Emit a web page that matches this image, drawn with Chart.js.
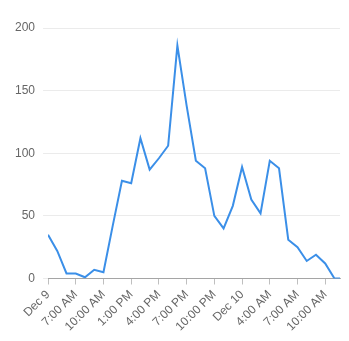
<!DOCTYPE html>
<html>
<head>
<meta charset="utf-8">
<script src="https://cdn.jsdelivr.net/npm/chart.js@4/dist/chart.umd.min.js"></script>
<style>
  html, body { margin: 0; padding: 0; background: #fff; }
  #wrap { width: 349px; height: 341px; }
</style>
</head>
<body>
<div id="wrap"><canvas id="lineChart"></canvas></div>
<script>
// hours since the first sample
const hours = [0, 1, 2, 3, 4, 5, 6, 7, 8, 9, 10, 11, 12, 13, 14, 15,
  16, 17, 18, 19, 20, 21, 22, 23, 24, 25, 26, 27, 28, 29, 30, 31, 31.6];
const counts = [35, 22, 4, 4, 1, 7, 5, 42, 78, 76, 112, 87, 96, 106, 186, 138,
  94, 88, 50, 40, 58, 89, 63, 52, 94, 88, 31, 25, 14, 19, 12, 0, 0];

// tick every 3 hours
const tickHours = [0, 3, 6, 9, 12, 15, 18, 21, 24, 27, 30];
const tickLabels = ['Dec 9', '7:00 AM', '10:00 AM', '1:00 PM', '4:00 PM',
  '7:00 PM', '10:00 PM', 'Dec 10', '4:00 AM', '7:00 AM', '10:00 AM'];

Chart.defaults.font.family = "'Liberation Sans', Arial, sans-serif";
Chart.defaults.font.size = 12;
Chart.defaults.color = '#666';

const ctx = document.getElementById('lineChart').getContext('2d');
new Chart(ctx, {
  type: 'line',
  data: {
    datasets: [
      {
        data: hours.map((h, i) => ({ x: h, y: counts[i] })),
        borderColor: 'rgb(59, 143, 232)',
        borderWidth: 2,
        pointRadius: 0,
        tension: 0,
        fill: false,
      },
    ],
  },
  options: {
    responsive: true,
    maintainAspectRatio: false,
    animation: false,
    layout: { padding: { top: 28, right: 9, left: 7, bottom: 4 } },
    plugins: {
      legend: { display: false },
      tooltip: { enabled: false },
    },
    scales: {
      x: {
        type: 'linear',
        min: hours[0],
        max: hours[hours.length - 1],
        afterBuildTicks: (axis) => {
          axis.ticks = tickHours.map((v) => ({ value: v }));
        },
        ticks: {
          autoSkip: false,
          maxRotation: 45,
          minRotation: 45,
          callback: (value) => tickLabels[tickHours.indexOf(value)],
        },
        grid: {
          drawOnChartArea: false,
          tickLength: 6,
          color: 'rgba(0,0,0,0.25)',
        },
        border: { color: 'rgba(0,0,0,0.3)' },
      },
      y: {
        min: 0,
        max: 200,
        ticks: { stepSize: 50, padding: 8 },
        grid: { color: 'rgba(0,0,0,0.08)', tickLength: 5 },
        border: { display: false },
      },
    },
  },
});
</script>
</body>
</html>
